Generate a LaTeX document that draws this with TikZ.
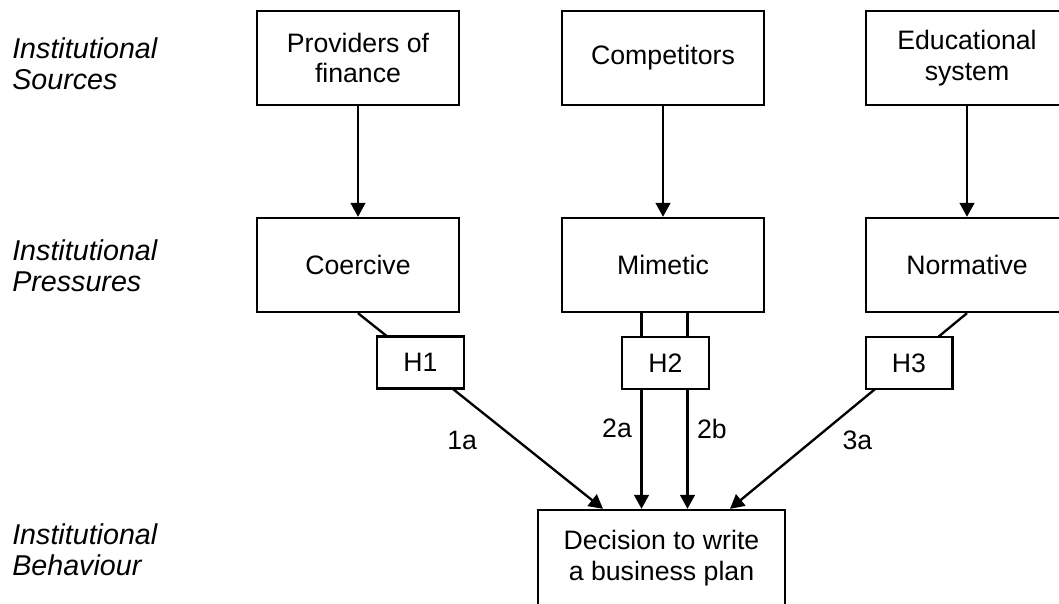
\documentclass[tikz,border=0pt]{standalone}
\usepackage{fontspec}
\setmainfont{Liberation Sans}
\usetikzlibrary{calc}
\usetikzlibrary{arrows.meta}

\begin{document}
\begin{tikzpicture}[x=0.75pt,y=-0.75pt,
  box/.style={draw=black,line width=1.75pt,fill=white,align=center,inner sep=0pt,
    minimum width=151.5pt,minimum height=70.5pt,font=\fontsize{20}{23}\selectfont},
  hyp/.style={box,minimum width=65pt,minimum height=39pt},
  level/.style={align=left,anchor=west,inner sep=0pt,font=\fontsize{21.5}{23.5}\selectfont\itshape},
  link/.style={black,line width=1.75pt},
  arr/.style={link,-{Triangle[length=10.5pt,width=11pt]}},
  lab/.style={font=\fontsize{20}{23}\selectfont}]

\useasboundingbox (0,0) rectangle (1059,603);

\node[level] (lvl1) at (12,64) {Institutional\\Sources};
\node[level] (lvl2) at (12,266) {Institutional\\Pressures};
\node[level] (lvl3) at (12,550) {Institutional\\Behaviour};

\node[box] (src1) at (358,58) {Providers of\\finance};
\node[box] (src2) at (663,58) {Competitors};
\node[box] (src3) at (967,58) {Educational\\system};

\node[box] (pr1) at (358,265) {Coercive};
\node[box] (pr2) at (663,265) {Mimetic};
\node[box] (pr3) at (967,265) {Normative};

\node[box,minimum width=185pt,minimum height=72pt] (dec) at (661.5,558) {Decision to write\\a business plan};

\coordinate (d1) at ($(dec.north)+(-58.5,0)$);
\coordinate (d2) at ($(dec.north)+(-20,0)$);
\coordinate (d3) at ($(dec.north)+(26,0)$);
\coordinate (d4) at ($(dec.north)+(68.5,0)$);

\draw[arr] (src1)--(pr1);
\draw[arr] (src2)--(pr2);
\draw[arr] (src3)--(pr3);

\draw[arr] (pr1.south)--(d1) node[lab,pos=0.65,left=26pt] {1a};
\draw[arr] (pr2.south-|d2)--(d2) node[lab,pos=0.59,left=3pt] {2a};
\draw[arr] (pr2.south-|d3)--(d3) node[lab,pos=0.59,right=3pt] {2b};
\draw[arr] (pr3.south)--(d4) node[lab,pos=0.65,right=18pt] {3a};

\node[hyp] (h1) at (420.5,362.5) {H1};
\node[hyp] (h2) at (665.5,363) {H2};
\node[hyp] (h3) at (909,363) {H3};

\end{tikzpicture}
\end{document}
